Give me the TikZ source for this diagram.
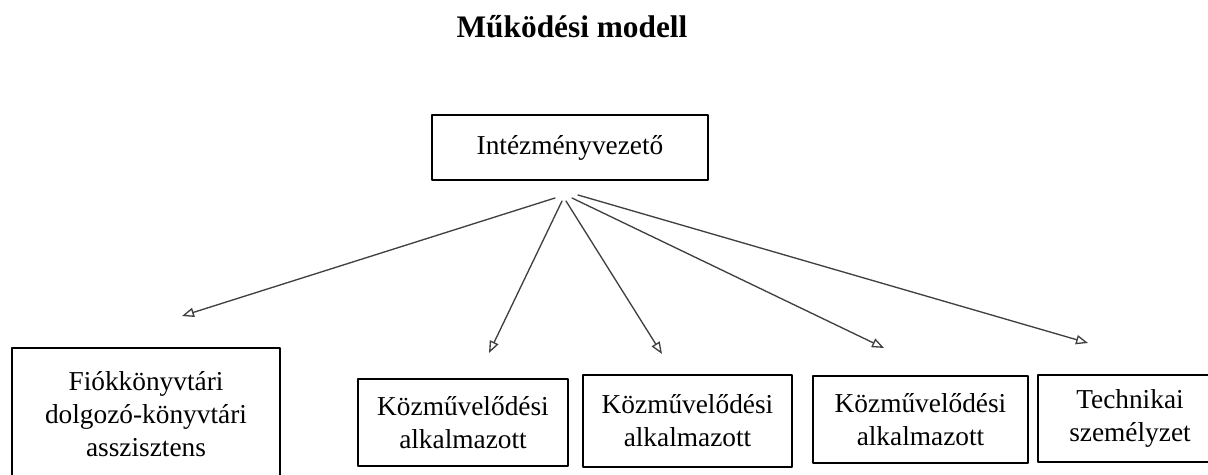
\documentclass[tikz,border=0pt]{standalone}
\usepackage{fontspec}
\setmainfont{Liberation Serif}
\usetikzlibrary{arrows.meta}
\definecolor{lnclr}{rgb}{0.25,0.25,0.25}

\begin{document}
\begin{tikzpicture}[x=0.75pt,y=-0.75pt,line cap=round,line join=round,
	box/.style={draw=black,line width=1.9pt,inner sep=0pt,align=center,
		font=\fontsize{20.5}{24.75}\selectfont},
	arr/.style={draw=lnclr,line width=1pt,-{Triangle[open,length=9pt,width=7pt]}}]
	\useasboundingbox (0,0) rectangle (1208,475);
	\clip (0,0) rectangle (1208,475);
	\node[anchor=base,font=\fontsize{23.5}{28}\selectfont\bfseries] (title) at (572,37) {Működési modell};
	\node[box,minimum width=207pt,minimum height=48.75pt] (lead) at (570,147.5) {Intézményvezető};
	\node[box,minimum width=201pt,minimum height=99pt] (fiok) at (146,414) {Fiókkönyvtári\\dolgozó-könyvtári\\asszisztens};
	\node[box,minimum width=157.5pt,minimum height=65.25pt] (kozma) at (463,422.5) {Közművelődési\\alkalmazott};
	\node[box,minimum width=156.75pt,minimum height=69pt] (kozmb) at (687.5,421) {Közművelődési\\alkalmazott};
	\node[box,minimum width=161.25pt,minimum height=65.25pt] (kozmc) at (920.5,419.5) {Közművelődési\\alkalmazott};
	\node[box,minimum width=138pt,minimum height=65.25pt] (tech) at (1130,418.5) {Technikai\\személyzet};
	\coordinate (s1) at (555,198);
	\coordinate (s2) at (562,201);
	\coordinate (s3) at (566,201);
	\coordinate (s4) at (572,198);
	\coordinate (s5) at (578,195);
	\coordinate (e1) at (182,316);
	\coordinate (e2) at (489,353);
	\coordinate (e3) at (662,354);
	\coordinate (e4) at (884,348);
	\coordinate (e5) at (1088,343);
	\draw[arr] (s1) -- (e1);
	\draw[arr] (s2) -- (e2);
	\draw[arr] (s3) -- (e3);
	\draw[arr] (s4) -- (e4);
	\draw[arr] (s5) -- (e5);
\end{tikzpicture}
\end{document}
